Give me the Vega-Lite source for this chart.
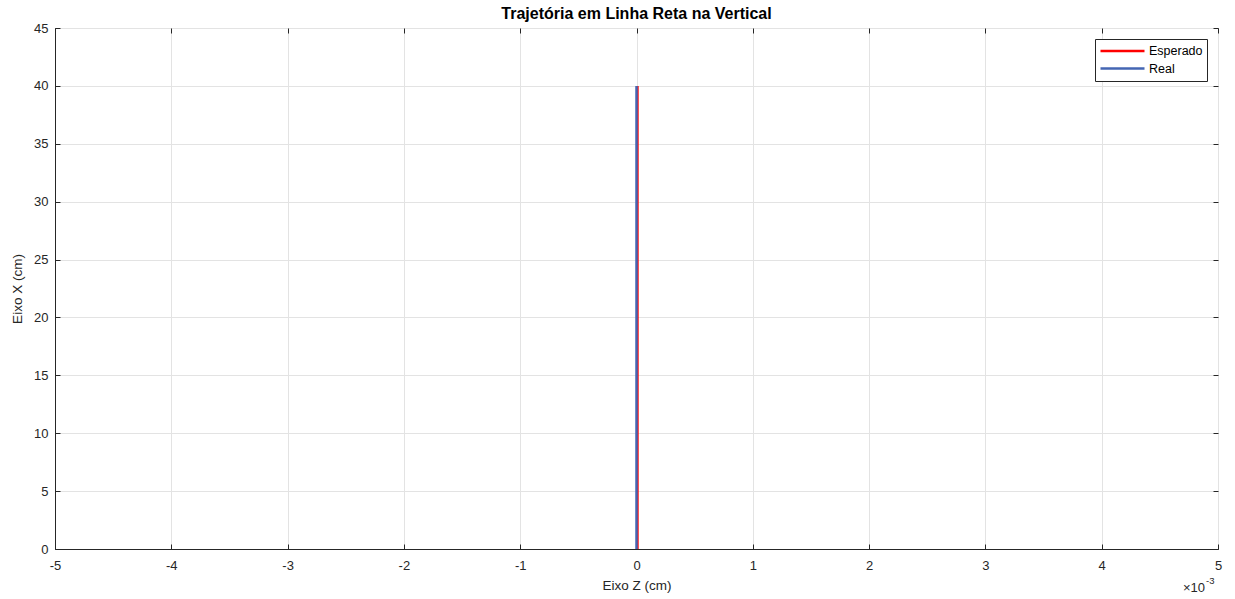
{
  "$schema": "https://vega.github.io/schema/vega-lite/v6.json",
  "width": 1163,
  "height": 521,
  "autosize": {"type": "none"},
  "padding": {"left": 55, "top": 28, "right": 17, "bottom": 50},
  "background": "white",
  "config": {
    "font": "Liberation Sans",
    "view": {"stroke": "#262626", "strokeWidth": 1},
    "axis": {
      "labelFont": "Liberation Sans",
      "titleFont": "Liberation Sans",
      "labelFontSize": 13,
      "titleFontSize": 13.5,
      "titleFontWeight": "normal",
      "labelColor": "#262626",
      "titleColor": "#262626",
      "domainColor": "#262626",
      "tickColor": "#262626",
      "gridColor": "#e3e3e3",
      "gridOpacity": 1
    }
  },
  "title": {
    "text": "Trajetória em Linha Reta na Vertical",
    "fontSize": 16,
    "fontWeight": "bold",
    "color": "#000000",
    "font": "Liberation Sans",
    "anchor": "middle",
    "offset": 0
  },
  "datasets": {
    "trajetoria": [
      {"serie": "Esperado", "z": 0.000008, "x": 0},
      {"serie": "Esperado", "z": 0.000008, "x": 40},
      {"serie": "Real", "z": 0, "x": 0},
      {"serie": "Real", "z": 0, "x": 40}
    ]
  },
  "layer": [
    {
      "data": {"name": "trajetoria"},
      "mark": {"type": "line", "strokeWidth": 2.5},
      "encoding": {
        "x": {
          "field": "z",
          "type": "quantitative",
          "scale": {"domain": [-0.005, 0.005], "nice": false, "zero": false},
          "axis": {
            "orient": "bottom",
            "title": "Eixo Z (cm)",
            "values": [-0.005, -0.004, -0.003, -0.002, -0.001, 0, 0.001, 0.002, 0.003, 0.004, 0.005],
            "labelExpr": "'' + round(datum.value * 1000)",
            "tickSize": -5,
            "labelPadding": 15,
            "titlePadding": 6,
            "grid": true,
            "labelFlush": false
          }
        },
        "y": {
          "field": "x",
          "type": "quantitative",
          "scale": {"domain": [0, 45], "nice": false},
          "axis": {
            "orient": "left",
            "title": "Eixo X (cm)",
            "values": [0, 5, 10, 15, 20, 25, 30, 35, 40, 45],
            "tickSize": -5,
            "labelPadding": 12,
            "titlePadding": 9,
            "grid": true,
            "labelFlush": false
          }
        },
        "color": {
          "field": "serie",
          "type": "nominal",
          "scale": {"domain": ["Esperado", "Real"], "range": ["#ff0000", "#4466b3"]},
          "legend": {
            "title": null,
            "orient": "top-right",
            "offset": 11,
            "strokeColor": "#262626",
            "fillColor": "#ffffff",
            "padding": 4,
            "symbolType": "stroke",
            "symbolSize": 1936,
            "symbolStrokeWidth": 2.5,
            "clipHeight": 16,
            "labelFontSize": 12.5,
            "labelColor": "#000000",
            "labelOffset": 3,
            "rowPadding": 1.5
          }
        },
        "detail": {"field": "serie"}
      }
    },
    {
      "data": {"name": "trajetoria"},
      "mark": {"type": "point", "opacity": 0},
      "encoding": {
        "x": {
          "field": "z",
          "type": "quantitative",
          "axis": {
            "orient": "top",
            "title": null,
            "labels": false,
            "values": [-0.005, -0.004, -0.003, -0.002, -0.001, 0, 0.001, 0.002, 0.003, 0.004, 0.005],
            "tickSize": -5,
            "grid": false,
            "domain": false
          }
        },
        "y": {
          "field": "x",
          "type": "quantitative",
          "axis": {
            "orient": "right",
            "title": null,
            "labels": false,
            "values": [0, 5, 10, 15, 20, 25, 30, 35, 40, 45],
            "tickSize": -5,
            "grid": false,
            "domain": false
          }
        }
      }
    },
    {
      "data": {"values": [{"z": 0.004888, "x": -3.33, "t": "×10"}]},
      "mark": {"type": "text", "align": "right", "baseline": "middle", "fontSize": 13, "color": "#262626", "font": "Liberation Sans"},
      "encoding": {
        "x": {"field": "z", "type": "quantitative", "axis": null},
        "y": {"field": "x", "type": "quantitative", "axis": null},
        "text": {"field": "t"}
      }
    },
    {
      "data": {"values": [{"z": 0.004897, "x": -2.8, "t": "-3"}]},
      "mark": {"type": "text", "align": "left", "baseline": "middle", "fontSize": 9.5, "color": "#262626", "font": "Liberation Sans"},
      "encoding": {
        "x": {"field": "z", "type": "quantitative", "axis": null},
        "y": {"field": "x", "type": "quantitative", "axis": null},
        "text": {"field": "t"}
      }
    }
  ],
  "resolve": {"axis": {"x": "independent", "y": "independent"}}
}
